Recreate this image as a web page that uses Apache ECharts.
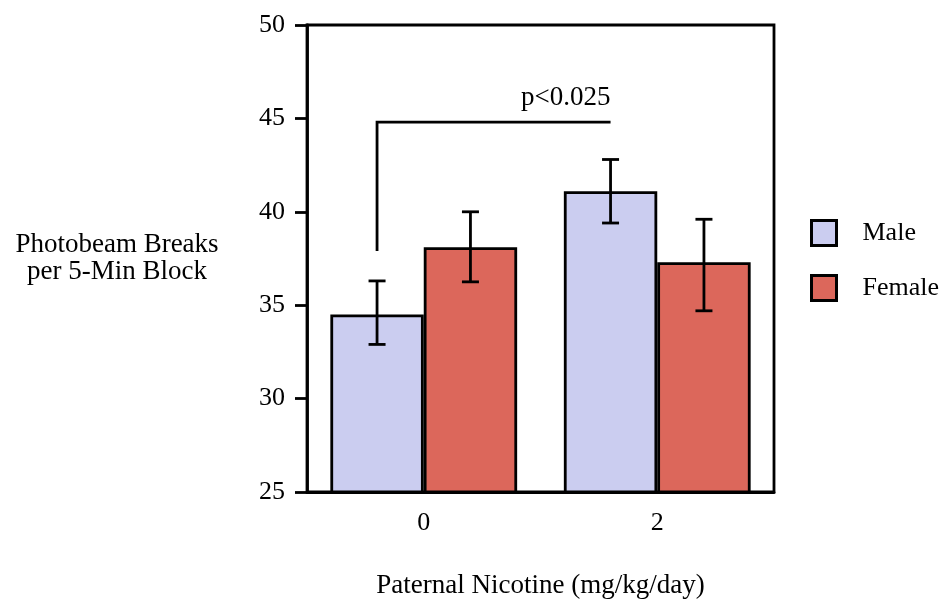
<!DOCTYPE html>
<html>
<head>
<meta charset="utf-8">
<script src="https://cdn.jsdelivr.net/npm/echarts@6/dist/echarts.min.js"></script>
<style>html,body{margin:0;padding:0;background:#fff}#c{width:945px;height:601px}</style>
</head>
<body>
<div id="c"></div>
<script>
const categories = ['0', '2'];
const seriesNames = ['Male', 'Female'];
const maleMean = [34.5, 41.1];
const femaleMean = [38.1, 37.3];
const maleErrLow = [32.9, 39.4];
const maleErrHigh = [36.3, 42.8];
const femaleErrLow = [36.25, 34.7];
const femaleErrHigh = [40.0, 39.6];
const yMin = 25, yMax = 50, yStep = 5;
const bracketFrom = 0, bracketTo = 1, bracketTop = 44.8, bracketBottom = 37.9;
const bracketLabel = 'p<0.025';
const xTitle = 'Paternal Nicotine (mg/kg/day)';
const yTitle = 'Photobeam Breaks\nper 5-Min Block';

const FONT = "'Liberation Serif', 'Times New Roman', serif";
const MALE = '#cbcdf0', FEMALE = '#dc675b';
const BW = 0.4; // bar width fraction of band
const LW = 2.8;

const chart = echarts.init(document.getElementById('c'));

const errData = [];
maleMean.forEach((v, i) => errData.push([i, maleErrLow[i], maleErrHigh[i], 0]));
femaleMean.forEach((v, i) => errData.push([i, femaleErrLow[i], femaleErrHigh[i], 1]));

chart.setOption({
  animation: false,
  grid: { left: 307, right: 171, top: 25, bottom: 109, outerBoundsMode: 'none', containLabel: false,
    show: true, borderColor: '#000', borderWidth: LW, backgroundColor: 'transparent' },
  legend: {
    orient: 'vertical', left: 810, top: 219, padding: 0, itemWidth: 25, itemHeight: 25, itemGap: 27,
    icon: 'rect', data: seriesNames,
    itemStyle: { borderColor: '#000', borderWidth: 3 },
    textStyle: { fontFamily: FONT, fontSize: 26, color: '#000', padding: [0, 0, 0, 21] }
  },
  xAxis: {
    type: 'category', data: categories,
    axisLine: { lineStyle: { color: '#000', width: LW } },
    axisTick: { alignWithLabel: true, length: 10, lineStyle: { color: '#000', width: LW } },
    axisLabel: { fontFamily: FONT, fontSize: 26, color: '#000', margin: 18 },
    name: xTitle, nameLocation: 'middle', nameGap: 80,
    nameTextStyle: { fontFamily: FONT, fontSize: 27, color: '#000' }
  },
  yAxis: {
    type: 'value', min: yMin, max: yMax, interval: yStep,
    axisLine: { show: true, lineStyle: { color: '#000', width: LW } },
    axisTick: { show: true, length: 12, lineStyle: { color: '#000', width: LW } },
    axisLabel: { fontFamily: FONT, fontSize: 26, color: '#000', margin: 22 },
    splitLine: { show: false }
  },
  graphic: [{
    type: 'text', x: 117, y: 258,
    style: { text: yTitle, font: '27px ' + FONT, fill: '#000', textAlign: 'center', textVerticalAlign: 'middle', lineHeight: 27 }
  }],
  series: [
    { name: 'Male', type: 'bar', data: maleMean, barWidth: (BW * 100) + '%', barGap: '0%',
      itemStyle: { color: MALE, borderColor: '#000', borderWidth: LW } },
    { name: 'Female', type: 'bar', data: femaleMean, barWidth: (BW * 100) + '%', barGap: '0%',
      itemStyle: { color: FEMALE, borderColor: '#000', borderWidth: LW } },
    { type: 'custom', z: 10, data: errData, encode: { x: 0, y: [1, 2] },
      renderItem: function (params, api) {
        const band = api.size([1, 0])[0];
        const off = (api.value(3) === 0 ? -1 : 1) * band * BW / 2;
        const lo = api.coord([api.value(0), api.value(1)]);
        const hi = api.coord([api.value(0), api.value(2)]);
        const x = lo[0] + off, cw = 8.5;
        const st = { stroke: '#000', lineWidth: LW };
        return { type: 'group', children: [
          { type: 'line', shape: { x1: x, y1: lo[1], x2: x, y2: hi[1] }, style: st },
          { type: 'line', shape: { x1: x - cw, y1: lo[1], x2: x + cw, y2: lo[1] }, style: st },
          { type: 'line', shape: { x1: x - cw, y1: hi[1], x2: x + cw, y2: hi[1] }, style: st }
        ] };
      } },
    { type: 'custom', z: 10, data: [[bracketFrom, bracketTo, bracketTop, bracketBottom]],
      encode: { x: [0, 1], y: [2, 3] },
      renderItem: function (params, api) {
        const band = api.size([1, 0])[0];
        const off = -band * BW / 2;
        const a = api.coord([api.value(0), api.value(2)]);
        const b = api.coord([api.value(1), api.value(2)]);
        const c = api.coord([api.value(0), api.value(3)]);
        return { type: 'group', children: [
          { type: 'polyline', shape: { points: [[a[0] + off, c[1]], [a[0] + off, a[1]], [b[0] + off, b[1]]] },
            style: { stroke: '#000', lineWidth: LW, fill: null } },
          { type: 'text', style: { text: bracketLabel, x: b[0] + off, y: a[1] - 24, textAlign: 'right', textVerticalAlign: 'middle',
            font: '27px ' + FONT, fill: '#000' } }
        ] };
      } }
  ]
});
</script>
</body>
</html>
